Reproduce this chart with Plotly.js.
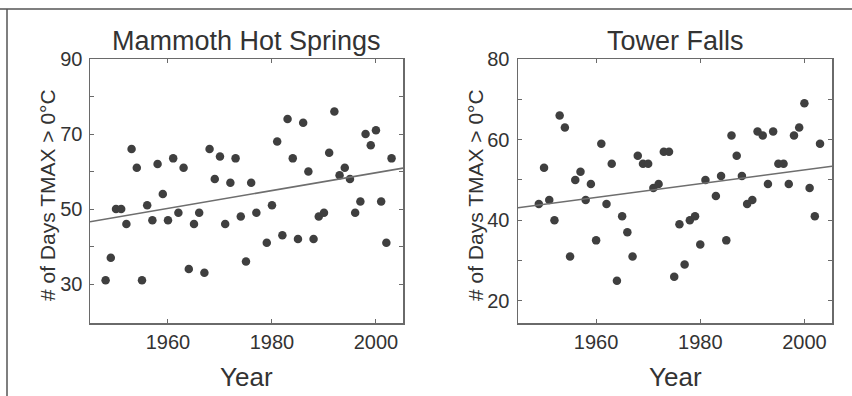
<!DOCTYPE html>
<html>
<head>
<meta charset="utf-8">
<script src="https://cdn.plot.ly/plotly-3.0.1.min.js"></script>
<style>html,body{margin:0;padding:0;background:#fff;}#chart{width:852px;height:396px;}</style>
</head>
<body>
<div id="chart"></div>
<script>
// Mammoth Hot Springs
const mhsYears = [1948,1949,1950,1951,1952,1953,1954,1955,1956,1957,1958,1959,1960,1961,1962,1963,1964,1965,1966,1967,1968,1969,1970,1971,1972,1973,1974,1975,1976,1977,1979,1980,1981,1982,1983,1984,1985,1986,1987,1988,1989,1990,1991,1992,1993,1994,1995,1996,1997,1998,1999,2000,2001,2002,2003];
const mhsDays  = [31,37,50,50,46,66,61,31,51,47,62,54,47,63.5,49,61,34,46,49,33,66,58,64,46,57,63.5,48,36,57,49,41,51,68,43,74,63.5,42,73,60,42,48,49,65,76,59,61,58,49,52,70,67,71,52,41,63.5];
const mhsTrendYears = [1945, 2005.2];
const mhsTrendDays  = [46.6, 60.9];

// Tower Falls
const tfYears = [1949,1950,1951,1952,1953,1954,1955,1956,1957,1958,1959,1960,1961,1962,1963,1964,1965,1966,1967,1968,1969,1970,1971,1972,1973,1974,1975,1976,1977,1978,1979,1980,1981,1983,1984,1985,1986,1987,1988,1989,1990,1991,1992,1993,1994,1995,1996,1997,1998,1999,2000,2001,2002,2003];
const tfDays  = [44,53,45,40,66,63,31,50,52,45,49,35,59,44,54,25,41,37,31,56,54,54,48,49,57,57,26,39,29,40,41,34,50,46,51,35,61,56,51,44,45,62,61,49,62,54,54,49,61,63,69,48,41,59];
const tfTrendYears = [1945, 2005.3];
const tfTrendDays  = [43.1, 53.4];

// Tick labels
const xTickVals = [1960, 1980, 2000];
const xTickText = ['1960', '1980', '2000'];
const mhsYTickVals = [30,40,50,60,70,80,90];
const mhsYTickText = ['30','','50','','70','','90'];
const tfYTickVals = [20,30,40,50,60,70,80];
const tfYTickText = ['20','','40','','60','','80'];

const yTitle = '# of Days TMAX > 0°C';
const FONT = '"Liberation Sans", Arial, Helvetica, sans-serif';
const TXT = '#333333';
const AX = '#6a6a6a';
const DOT = '#3f3f3f';

const W = 852, H = 396;
const px = v => v / W;
const py = v => (H - v) / H;

const traces = [
  {x: mhsYears, y: mhsDays, type: 'scatter', mode: 'markers', xaxis: 'x', yaxis: 'y',
   marker: {color: DOT, size: 8.5}, hoverinfo: 'x+y', showlegend: false},
  {x: mhsTrendYears, y: mhsTrendDays, type: 'scatter', mode: 'lines', xaxis: 'x', yaxis: 'y',
   line: {color: '#6e6e6e', width: 1.6}, showlegend: false},
  {x: tfYears, y: tfDays, type: 'scatter', mode: 'markers', xaxis: 'x2', yaxis: 'y2',
   marker: {color: DOT, size: 8.5}, hoverinfo: 'x+y', showlegend: false},
  {x: tfTrendYears, y: tfTrendDays, type: 'scatter', mode: 'lines', xaxis: 'x2', yaxis: 'y2',
   line: {color: '#6e6e6e', width: 1.6}, showlegend: false}
];

const axCommon = {
  showgrid: false, zeroline: false, showline: true, linecolor: AX, linewidth: 1.5,
  mirror: 'ticks', ticks: 'inside', ticklen: 4, tickwidth: 1, tickcolor: AX,
  tickfont: {family: FONT, size: 20, color: TXT}, tickmode: 'array', fixedrange: true
};

const layout = {
  width: W, height: H,
  margin: {l: 0, r: 0, t: 0, b: 0, pad: 0},
  paper_bgcolor: '#ffffff', plot_bgcolor: '#ffffff',
  showlegend: false,
  font: {family: FONT, color: TXT},
  xaxis: Object.assign({}, axCommon, {domain: [px(90), px(403)], range: [1945, 2005.2],
    tickvals: xTickVals, ticktext: xTickText, anchor: 'y', ticklabelstandoff: 0}),
  yaxis: Object.assign({}, axCommon, {domain: [py(323), py(59)], range: [19.6, 90],
    tickvals: mhsYTickVals, ticktext: mhsYTickText, anchor: 'x', ticklabelstandoff: 2}),
  xaxis2: Object.assign({}, axCommon, {domain: [px(518), px(832)], range: [1945, 2005.3],
    tickvals: xTickVals, ticktext: xTickText, anchor: 'y2', ticklabelstandoff: 0}),
  yaxis2: Object.assign({}, axCommon, {domain: [py(323), py(59)], range: [14.5, 80],
    tickvals: tfYTickVals, ticktext: tfYTickText, anchor: 'x2', ticklabelstandoff: 3}),
  shapes: [
    {type: 'line', xref: 'paper', yref: 'paper', x0: 0, x1: 1, y0: py(9), y1: py(9),
     line: {color: '#555', width: 1.5}},
    {type: 'line', xref: 'paper', yref: 'paper', x0: px(7), x1: px(7), y0: 0, y1: py(9),
     line: {color: '#555', width: 1.5}}
  ],
  annotations: [
    {text: 'Mammoth Hot Springs', xref: 'paper', yref: 'paper', x: px(246.5), y: py(41),
     xanchor: 'center', yanchor: 'middle', showarrow: false, font: {family: FONT, size: 27, color: TXT}},
    {text: 'Tower Falls', xref: 'paper', yref: 'paper', x: px(675), y: py(41),
     xanchor: 'center', yanchor: 'middle', showarrow: false, font: {family: FONT, size: 27, color: TXT}},
    {text: 'Year', xref: 'paper', yref: 'paper', x: px(246.5), y: py(377),
     xanchor: 'center', yanchor: 'middle', showarrow: false, font: {family: FONT, size: 26, color: TXT}},
    {text: 'Year', xref: 'paper', yref: 'paper', x: px(675), y: py(377),
     xanchor: 'center', yanchor: 'middle', showarrow: false, font: {family: FONT, size: 26, color: TXT}},
    {text: yTitle, xref: 'paper', yref: 'paper', x: px(47), y: py(195), textangle: -90,
     xanchor: 'center', yanchor: 'middle', showarrow: false, font: {family: FONT, size: 21, color: TXT}},
    {text: yTitle, xref: 'paper', yref: 'paper', x: px(475), y: py(195), textangle: -90,
     xanchor: 'center', yanchor: 'middle', showarrow: false, font: {family: FONT, size: 21, color: TXT}}
  ]
};

Plotly.newPlot('chart', traces, layout, {staticPlot: true, displayModeBar: false});
</script>
</body>
</html>
